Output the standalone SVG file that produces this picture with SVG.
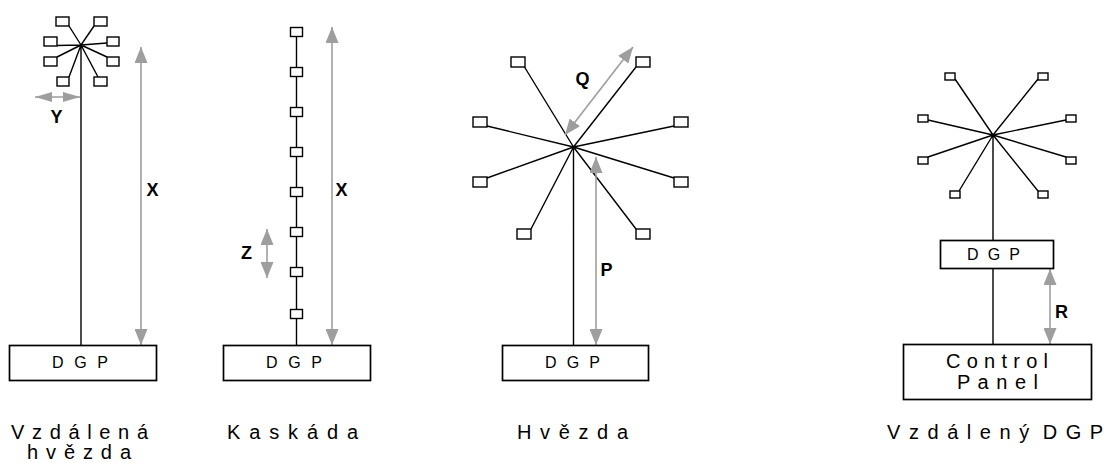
<svg xmlns="http://www.w3.org/2000/svg" width="1106" height="463" viewBox="0 0 1106 463">
  <style>
    .wire { stroke: #000; stroke-width: 1.4; fill: none; }
    .term { fill: #fff; stroke: #000; stroke-width: 1.4; }
    .unit { fill: #fff; stroke: #000; stroke-width: 1.7; }
    .dim { stroke: #9e9e9e; stroke-width: 1.6; fill: none; marker-start: url(#head); marker-end: url(#head); }
    .dim-flat { stroke: #9e9e9e; stroke-width: 1.6; fill: none; marker-start: url(#headFlat); marker-end: url(#headFlat); }
    .unit-text { font-family: "Liberation Sans", Arial, sans-serif; font-size: 16px; fill: #000; }
    .panel-text { font-family: "Liberation Sans", Arial, sans-serif; font-size: 20px; fill: #000; }
    .caption { font-family: "Liberation Sans", Arial, sans-serif; font-size: 20px; fill: #000; }
    .dim-label { font-family: "Liberation Sans", Arial, sans-serif; font-size: 18px; font-weight: bold; fill: #000; text-anchor: middle; }
  </style>
  <defs>
    <marker id="head" viewBox="0 0 16 13" refX="16" refY="6.5" markerWidth="16" markerHeight="13" markerUnits="userSpaceOnUse" orient="auto-start-reverse">
      <path d="M0,0 L16,6.5 L0,13 Z" fill="#9e9e9e"/>
    </marker>
    <marker id="headFlat" viewBox="0 0 17 10" refX="17" refY="5" markerWidth="17" markerHeight="10" markerUnits="userSpaceOnUse" orient="auto-start-reverse">
      <path d="M0,0 L17,5 L0,10 Z" fill="#9e9e9e"/>
    </marker>
  </defs>

  <!-- cabling -->
  <g id="connectors">
    <!-- remote star -->
    <path class="wire" d="M81,45 V345 M81,45 L69,26 M81,45 L94,26 M81,45 L57,45.5 M81,45 L57,57 M81,45 L107,43 M81,45 L107,57 M81,45 L69,77 M81,45 L98,77"/>
    <!-- cascade -->
    <path class="wire" d="M296.5,32 V345"/>
    <!-- star -->
    <path class="wire" d="M573.5,147 V345 M573.5,147 L524.5,67 M573.5,147 L636,67 M573.5,147 L487,126 M573.5,147 L487,178 M573.5,147 L674,126 M573.5,147 L674,178 M573.5,147 L531,229 M573.5,147 L636,229"/>
    <!-- remote DGP -->
    <path class="wire" d="M993,135 V240 M993,269 V344 M993,135 L955,79 M993,135 L1038,79 M993,135 L928,120 M993,135 L928,157 M993,135 L1066,120 M993,135 L1066,157 M993,135 L959,191 M993,135 L1038,191"/>

    <!-- dimension arrows -->
    <line class="dim-flat" x1="35" y1="97" x2="80" y2="97"/>
    <line class="dim" x1="141" y1="47" x2="141" y2="345"/>
    <line class="dim" x1="332" y1="27" x2="332" y2="345"/>
    <line class="dim" x1="267" y1="229" x2="267" y2="278"/>
    <line class="dim" x1="633" y1="47" x2="565" y2="135"/>
    <line class="dim" x1="596" y1="157" x2="596" y2="345"/>
    <line class="dim" x1="1050" y1="269" x2="1050" y2="344"/>
  </g>

  <!-- remote star terminals -->
  <g id="remote-star-terminals">
    <rect class="term" x="56" y="17" width="13" height="9"/>
    <rect class="term" x="94" y="17" width="13" height="9"/>
    <rect class="term" x="44" y="37" width="13" height="9"/>
    <rect class="term" x="44" y="57" width="13" height="9"/>
    <rect class="term" x="107" y="37" width="12" height="9"/>
    <rect class="term" x="107" y="57" width="12" height="9"/>
    <rect class="term" x="57" y="77" width="12" height="9"/>
    <rect class="term" x="94" y="77" width="13" height="9"/>
  </g>

  <!-- cascade terminals -->
  <g id="cascade-terminals">
    <rect class="term" x="290.5" y="27.5" width="12" height="9"/>
    <rect class="term" x="290.5" y="67.5" width="12" height="9"/>
    <rect class="term" x="290.5" y="107.5" width="12" height="9"/>
    <rect class="term" x="290.5" y="147.5" width="12" height="9"/>
    <rect class="term" x="290.5" y="187.5" width="12" height="9"/>
    <rect class="term" x="290.5" y="227.5" width="12" height="9"/>
    <rect class="term" x="290.5" y="267.5" width="12" height="9"/>
    <rect class="term" x="290.5" y="309.5" width="12" height="9"/>
  </g>

  <!-- star terminals -->
  <g id="star-terminals">
    <rect class="term" x="511" y="57" width="14" height="10"/>
    <rect class="term" x="636" y="57" width="14" height="10"/>
    <rect class="term" x="473" y="117" width="14" height="10"/>
    <rect class="term" x="473" y="177" width="14" height="10"/>
    <rect class="term" x="674" y="117" width="14" height="10"/>
    <rect class="term" x="674" y="177" width="14" height="10"/>
    <rect class="term" x="517" y="229" width="14" height="10"/>
    <rect class="term" x="636" y="229" width="14" height="10"/>
  </g>

  <!-- remote DGP terminals -->
  <g id="remote-dgp-terminals">
    <rect class="term" x="945" y="73" width="10" height="7"/>
    <rect class="term" x="1038" y="73" width="10" height="7"/>
    <rect class="term" x="918" y="115" width="10" height="7"/>
    <rect class="term" x="918" y="157" width="10" height="7"/>
    <rect class="term" x="1066" y="115" width="10" height="7"/>
    <rect class="term" x="1066" y="157" width="10" height="7"/>
    <rect class="term" x="950" y="191" width="10" height="7"/>
    <rect class="term" x="1038" y="191" width="10" height="7"/>
  </g>

  <!-- DGP units -->
  <g id="dgp-1">
    <rect class="unit" x="9.5" y="345.5" width="147" height="35"/>
    <text class="unit-text" x="52" y="368" textLength="56" lengthAdjust="spacing">D G P</text>
  </g>
  <g id="dgp-2">
    <rect class="unit" x="223.5" y="345.5" width="147" height="35"/>
    <text class="unit-text" x="266" y="368" textLength="56" lengthAdjust="spacing">D G P</text>
  </g>
  <g id="dgp-3">
    <rect class="unit" x="502.5" y="345.5" width="146" height="35"/>
    <text class="unit-text" x="545" y="368" textLength="55" lengthAdjust="spacing">D G P</text>
  </g>
  <g id="dgp-4">
    <rect class="unit" x="940.5" y="240.5" width="113" height="28"/>
    <text class="unit-text" x="967" y="260" textLength="53" lengthAdjust="spacing">D G P</text>
  </g>
  <g id="control-panel">
    <rect class="unit" x="903.5" y="344.5" width="188" height="55"/>
    <text class="panel-text" x="946" y="368" textLength="102" lengthAdjust="spacing">C o n t r o l</text>
    <text class="panel-text" x="957" y="389" textLength="81" lengthAdjust="spacing">P a n e l</text>
  </g>

  <!-- dimension labels -->
  <g id="dimension-labels">
    <text class="dim-label" x="56.5" y="123">Y</text>
    <text class="dim-label" x="152.5" y="196">X</text>
    <text class="dim-label" x="341.5" y="196">X</text>
    <text class="dim-label" x="246.5" y="259">Z</text>
    <text class="dim-label" x="582.5" y="85">Q</text>
    <text class="dim-label" x="606.5" y="276">P</text>
    <text class="dim-label" x="1061.5" y="318">R</text>
  </g>

  <!-- captions -->
  <g id="captions">
    <text class="caption" x="11" y="439" textLength="137" lengthAdjust="spacing">V z d á l e n á</text>
    <text class="caption" x="27" y="459" textLength="104" lengthAdjust="spacing">h v ě z d a</text>
    <text class="caption" x="227" y="439" textLength="131" lengthAdjust="spacing">K a s k á d a</text>
    <text class="caption" x="517" y="439" textLength="111" lengthAdjust="spacing">H v ě z d a</text>
    <text class="caption" x="887" y="439" letter-spacing="1.5">V z d á l e n ý<tspan dx="5"> D G P</tspan></text>
  </g>
</svg>
